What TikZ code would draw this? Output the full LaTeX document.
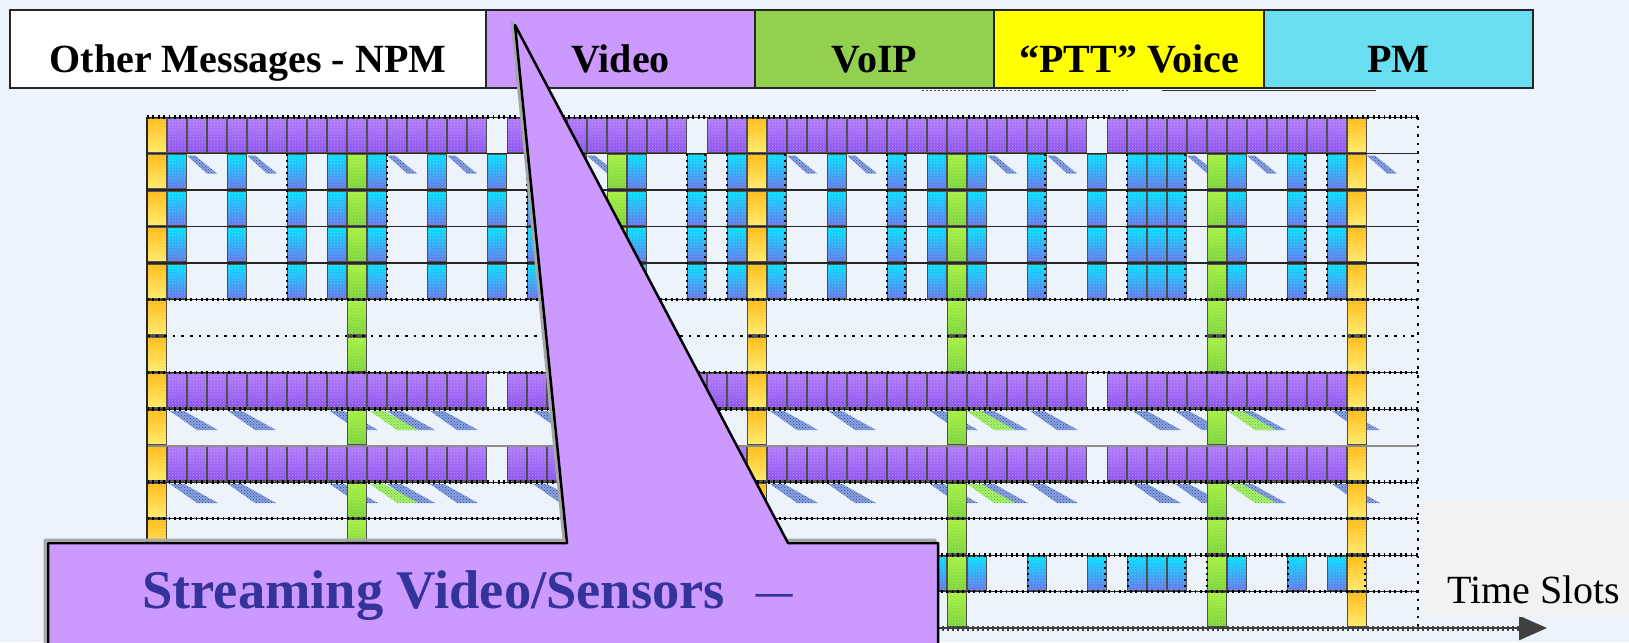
\documentclass[tikz,border=0pt]{standalone}
\usepackage{fontspec}
\setmainfont{Liberation Serif}
\usetikzlibrary{positioning,arrows.meta,patterns}

\definecolor{bgblue}{RGB}{237,243,251}
\definecolor{videopurple}{RGB}{204,153,255}
\definecolor{voipgreen}{RGB}{146,208,80}
\definecolor{pttyellow}{RGB}{255,255,0}
\definecolor{pmcyan}{RGB}{104,222,240}
\definecolor{calloutblue}{RGB}{51,51,153}
\definecolor{purpletop}{RGB}{176,122,252}
\definecolor{purplebot}{RGB}{140,84,236}
\definecolor{yellowtop}{RGB}{255,188,20}
\definecolor{yellowbot}{RGB}{255,234,104}
\definecolor{bluetop}{RGB}{0,224,255}
\definecolor{bluebot}{RGB}{100,118,236}
\definecolor{greentop}{RGB}{164,240,64}
\definecolor{greenbot}{RGB}{124,212,56}
\definecolor{streakblue}{RGB}{60,100,204}
\definecolor{streakgreen}{RGB}{120,232,40}
\definecolor{slotgray}{RGB}{242,242,242}

% セル (スタイル, 列, 行)
\newcommand{\tscell}[3]{%
  \path[#1] ({147+20*#2+0.6},{117+36.5*#3+1}) rectangle ({147+20*#2+19.4},{117+36.5*#3+35.5});}
% 影 (短い / 長い)
\newcommand{\streakA}[2]{%
  \path[#1] (#2,155.5) -- ++(8,0) -- ++(22,18) -- ++(-10,0) -- cycle;}
\newcommand{\streakB}[3]{%
  \path[#1] (#2,#3) -- ++(14,0) -- ++(34,19) -- ++(-21,0) -- cycle;}

\begin{document}
\begin{tikzpicture}[x=1pt, y=-1pt,
  legendbox/.style={draw=black!85, line width=2pt, outer sep=0pt, inner sep=0pt,
    minimum height=78pt, text height=48pt, text depth=0pt,
    font=\fontsize{40}{48}\selectfont\bfseries},
  cellbase/.style={draw=black!70, line width=1.2pt,
    postaction={pattern=crosshatch dots, pattern color=white, fill opacity=0.3}},
  videocell/.style={cellbase, top color=purpletop, bottom color=purplebot},
  voipcell/.style={cellbase, top color=greentop, bottom color=greenbot},
  pttcell/.style={cellbase, top color=yellowtop, bottom color=yellowbot},
  pmcell/.style={cellbase, top color=bluetop, bottom color=bluebot},
  streak/.style={fill=streakblue!60, postaction={pattern=crosshatch dots, pattern color=streakblue!75!black}},
  greenstreak/.style={fill=streakgreen!65, postaction={pattern=crosshatch dots, pattern color=streakgreen!80!black}},
  solidrule/.style={draw=black!85, line width=1.6pt},
  grayrule/.style={draw=black!45, line width=2pt},
  dotrule/.style={draw=black!85, line width=1pt, postaction={draw=black, line width=3.2pt, dash pattern=on 1.8pt off 3.6pt}},
  sparsedots/.style={draw=black, line width=2.6pt, dash pattern=on 2.6pt off 6pt},
  celldots/.style={draw=black, line width=2.4pt, dash pattern=on 2pt off 4pt},
  axisline/.style={draw=black!75, line width=2.5pt, -{Triangle[length=28pt, width=24pt]}},
  axisdots/.style={draw=black!75, line width=5pt, dash pattern=on 2pt off 3pt},
  callout/.style={fill=videopurple, draw=black, line width=2.5pt, line join=round},
]
\useasboundingbox (0,0) rectangle (1629,642);
\clip (0,0) rectangle (1629,642);
\fill[bgblue] (0,0) rectangle (1629,642);

% 凡例
\node[legendbox, fill=white, minimum width=476pt] (npm) at (248,49) {Other Messages - NPM};
\node[legendbox, fill=videopurple, minimum width=269pt, right=0pt of npm] (video) {Video};
\node[legendbox, fill=voipgreen, minimum width=239pt, right=0pt of video] (voip) {VoIP};
\node[legendbox, fill=pttyellow, minimum width=270pt, right=0pt of voip] (ptt) {“PTT” Voice};
\node[legendbox, fill=pmcyan, minimum width=269pt, right=0pt of ptt] (pm) {PM};
\draw[black!70, line width=1.5pt, dash pattern=on 2pt off 2pt] (922,90.5) -- (1128,90.5);
\draw[black!80, line width=1.5pt] (1162,90.5) -- (1376,90.5);

% 影
\foreach \x in {187,247,387,447,587,787,847,987,1047,1187,1247,1367}{\streakA{streak}{\x}}
\foreach \t in {411,484}{
  \foreach \x in {170,228,330,387,430,533,575,770,828,930,980,1030,1133,1175,1238,1332}{\streakB{streak}{\x}{\t}}
  \foreach \x in {370,967,1228}{\streakB{greenstreak}{\x}{\t}}
}

% セル
\foreach \r in {1,...,4,12}{
  \foreach \c in {1,4,7,9,11,14,17,19,20,21,24,27,29,31,34,37,39,41,44,47,49,50,51,54,57,59}{\tscell{pmcell}{\c}{\r}}}
\foreach \r in {1,...,4}{\foreach \c in {10,23,40,53}{\tscell{voipcell}{\c}{\r}}}
\foreach \r in {5,6,8,10,11,12,13}{\foreach \c in {10,40,53}{\tscell{voipcell}{\c}{\r}}}
\foreach \a/\b in {1/16,18/26,28/29,31/46,48/59}{\foreach \c in {\a,...,\b}{\tscell{videocell}{\c}{0}}}
\foreach \r in {7,9}{\foreach \a/\b in {1/16,18/29,31/46,48/59}{\foreach \c in {\a,...,\b}{\tscell{videocell}{\c}{\r}}}}
\foreach \r in {0,...,13}{\foreach \c in {0,30,60}{\tscell{pttcell}{\c}{\r}}}

% 罫線
\foreach \k/\s in {0/dotrule,1/solidrule,2/solidrule,3/solidrule,4/solidrule,5/dotrule,6/sparsedots,
  7/dotrule,8/dotrule,9/grayrule,10/dotrule,11/dotrule,12/dotrule,13/dotrule}{
  \draw[\s] (147,{117+36.5*\k}) -- (1418,{117+36.5*\k});}
\draw[solidrule] (147,117) -- (147,628);
\draw[sparsedots] (1418,117) -- (1418,628);
\foreach \x in {287,387,527,687,705,727,785,887,905,1045,1127,1185,1305,1327}{\draw[celldots] (\x,153.5) -- (\x,299.5);}
\foreach \x in {1028,1105,1128,1185,1207,1288,1365}{\draw[celldots] (\x,555) -- (\x,591.5);}

% 時間軸
\coordinate (t0) at (147,628);
\coordinate (t1) at (1547,628);
\draw[axisline] (t0) -- (t1);
\draw[axisdots, shorten >=27pt] (t0) -- (t1);
\fill[slotgray] (1421,500) rectangle (1629,617);
\node[anchor=base west, inner sep=0pt, font=\fontsize{40}{48}\selectfont] (slots) at (1447,603) {Time Slots};

% 吹き出し
\draw[black!35, line width=3pt, line join=round, shift={(-3,-3)}] (48,543) -- (567,543) -- (515,25) -- (788,543) -- (938,543) -- (938,660) -- (48,660) -- cycle;
\draw[callout] (48,543) -- (567,543) -- (515,25) -- (788,543) -- (938,543) -- (938,660) -- (48,660) -- cycle;
\node[anchor=base west, inner sep=0pt, text=calloutblue, font=\fontsize{54.5}{60}\selectfont\bfseries] (calltext) at (142,608)
  {Streaming Video/Sensors\hspace{31pt}\scalebox{1.33}[1]{\mdseries –}};
\end{tikzpicture}
\end{document}
